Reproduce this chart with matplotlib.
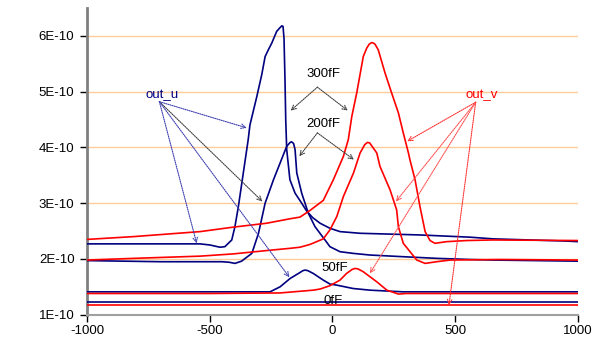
import numpy as np
import matplotlib
matplotlib.use("Agg")
import matplotlib.pyplot as plt
from matplotlib.ticker import FuncFormatter

# ---- data (y in units of 1E-10) ----
x_u300 = [-1000, -539, -499, -458, -438, -410, -397, -383, -363, -343, -336, -308, -288, -274,
          -261, -247, -227, -215, -206, -201, -197, -193, -190, -186, -173, -152, -125, -105, -80,
          -50, -10, 31, 113, 357, 561, 655, 956, 1000]
y_u300 = [2.27, 2.27, 2.25, 2.21, 2.22, 2.34, 2.58, 2.94, 3.54, 4.14, 4.40, 4.91, 5.30, 5.63,
          5.75, 5.87, 6.08, 6.14, 6.18, 6.17, 5.95, 5.20, 4.49, 3.96, 3.42, 3.18, 3.00, 2.86, 2.74,
          2.64, 2.55, 2.49, 2.46, 2.43, 2.39, 2.36, 2.32, 2.31]

x_u200 = [-1000, -700, -450, -420, -397, -370, -328, -301, -274, -240, -213, -186, -172, -166,
          -158, -152, -145, -125, -98, -71, -30, -10, 31, 84, 153, 288, 427, 561, 655, 1000]
y_u200 = [1.97, 1.95, 1.95, 1.94, 1.92, 1.96, 2.10, 2.46, 3.00, 3.42, 3.72, 4.02, 4.09, 4.10,
          4.07, 3.96, 3.54, 3.18, 2.82, 2.58, 2.34, 2.22, 2.13, 2.10, 2.07, 2.04, 2.01, 1.99, 1.98, 1.96]

x_u50 = [-1000, -310, -254, -213, -172, -138, -120, -111, -100, -78, -37, -10, 18, 84, 153, 288, 1000]
y_u50 = [1.41, 1.41, 1.41, 1.50, 1.65, 1.74, 1.79, 1.80, 1.79, 1.74, 1.62, 1.55, 1.53, 1.47,
         1.44, 1.41, 1.41]

x_u0 = [-1000, 1000]
y_u0 = [1.22, 1.22]

x_v300 = [-1000, -811, -539, -404, -268, -173, -132, -91, -37, 4, 45, 65, 79, 99, 126, 140,
          150, 160, 168, 174, 187, 215, 242, 269, 289, 310, 316, 337, 357, 378, 398, 418, 466,
          548, 655, 1000]
y_v300 = [2.35, 2.40, 2.49, 2.57, 2.64, 2.72, 2.75, 2.87, 3.05, 3.42, 3.84, 4.14, 4.55, 4.97,
          5.63, 5.78, 5.85, 5.88, 5.87, 5.85, 5.75, 5.33, 4.97, 4.62, 4.26, 3.90, 3.78, 3.42,
          2.94, 2.49, 2.33, 2.28, 2.31, 2.33, 2.34, 2.33]

x_v200 = [-1000, -811, -539, -404, -268, -173, -132, -91, -37, -10, 18, 45, 86, 113, 132, 143,
          152, 165, 181, 194, 235, 262, 269, 289, 344, 378, 425, 480, 683, 1000]
y_v200 = [1.98, 2.01, 2.05, 2.09, 2.15, 2.19, 2.21, 2.26, 2.36, 2.52, 2.76, 3.12, 3.54, 3.90,
          4.05, 4.09, 4.08, 4.00, 3.90, 3.66, 3.24, 2.88, 2.58, 2.28, 1.98, 1.92, 1.95, 1.98,
          1.99, 1.98]

x_v50 = [-1000, -500, -213, -78, -50, -10, 31, 58, 80, 92, 105, 126, 181, 222, 269, 300, 1000]
y_v50 = [1.38, 1.38, 1.39, 1.44, 1.46, 1.52, 1.62, 1.74, 1.81, 1.83, 1.82, 1.77, 1.59, 1.44,
         1.37, 1.38, 1.38]

x_v0 = [-1000, 1000]
y_v0 = [1.17, 1.17]

x_ticks = [-1000, -500, 0, 500, 1000]
y_ticks = [1, 2, 3, 4, 5, 6]

SCALE = 1e-10
BLUE = "#000080"
RED = "#FF0000"

plt.rcParams['font.family'] = ['Liberation Sans', 'DejaVu Sans']

fig = plt.figure(figsize=(6.07, 3.39), dpi=100)
ax = fig.add_axes([0.1433, 0.0717, 0.8085, 0.9047])

for xs, ys in [(x_u0, y_u0), (x_u50, y_u50), (x_u200, y_u200), (x_u300, y_u300)]:
    ax.plot(xs, np.array(ys) * SCALE, color=BLUE, lw=1.2, zorder=3)
for xs, ys in [(x_v0, y_v0), (x_v50, y_v50), (x_v200, y_v200), (x_v300, y_v300)]:
    ax.plot(xs, np.array(ys) * SCALE, color=RED, lw=1.2, zorder=3)

ax.set_xlim(-1000, 1000)
ax.set_ylim(1 * SCALE, 6.5 * SCALE)
ax.set_xticks(x_ticks)
ax.set_yticks([v * SCALE for v in y_ticks])
ax.yaxis.set_major_formatter(FuncFormatter(lambda v, p: f"{v / SCALE:.0f}E-10"))
ax.xaxis.set_major_formatter(FuncFormatter(lambda v, p: f"{v:.0f}"))
ax.tick_params(axis='both', direction='out', length=5, width=1, color='black',
               labelsize=9.5)
ax.tick_params(axis='y', pad=4)
ax.tick_params(axis='x', pad=2.5)
ax.yaxis.grid(True, color='#FFCC99', lw=1, zorder=0)
ax.set_axisbelow(True)
for s in ['top', 'right']:
    ax.spines[s].set_visible(False)
ax.spines['left'].set_color('#808080')
ax.spines['left'].set_linewidth(2)
ax.spines['bottom'].set_color('#A0A0A0')
ax.spines['bottom'].set_linewidth(1.5)


def Y(v):
    return v * SCALE


def arrow(src, dst, color):
    ax.annotate("", xy=(dst[0], Y(dst[1])), xytext=(src[0], Y(src[1])),
                arrowprops=dict(arrowstyle='->', linestyle=(0, (1, 1)), color=color, lw=0.8,
                                shrinkA=0, shrinkB=0, mutation_scale=8), zorder=4)


FS = 9.5
ax.text(-694, Y(4.94), "out_u", color=BLUE, fontsize=FS, ha='center', va='center')
ax.text(610, Y(4.94), "out_v", color=RED, fontsize=FS, ha='center', va='center')
ax.text(-38, Y(5.32), "300fF", color='black', fontsize=FS, ha='center', va='center')
ax.text(-38, Y(4.42), "200fF", color='black', fontsize=FS, ha='center', va='center')
ax.text(11, Y(1.83), "50fF", color='black', fontsize=FS, ha='center', va='center', zorder=5)
ax.text(3, Y(1.25), "0fF", color='black', fontsize=FS, ha='center', va='center', zorder=5)

u_src = (-705, 4.82)
arrow(u_src, (-349, 4.35), '#4040B0')
arrow(u_src, (-285, 3.03), '#404040')
arrow(u_src, (-553, 2.28), '#4040B0')
arrow(u_src, (-175, 1.67), '#4040B0')

v_src = (584, 4.81)
arrow(v_src, (305, 4.11), '#FF3030')
arrow(v_src, (259, 3.03), '#FF5050')
arrow(v_src, (153, 1.74), '#FF5050')
arrow(v_src, (475, 1.17), '#FF3030')

arrow((-61, 5.08), (-170, 4.66), '#404040')
arrow((-61, 5.08), (63, 4.66), '#404040')
arrow((-61, 4.26), (-135, 3.84), '#404040')
arrow((-61, 4.26), (88, 3.78), '#404040')

fig.savefig("out.png", dpi=100)
